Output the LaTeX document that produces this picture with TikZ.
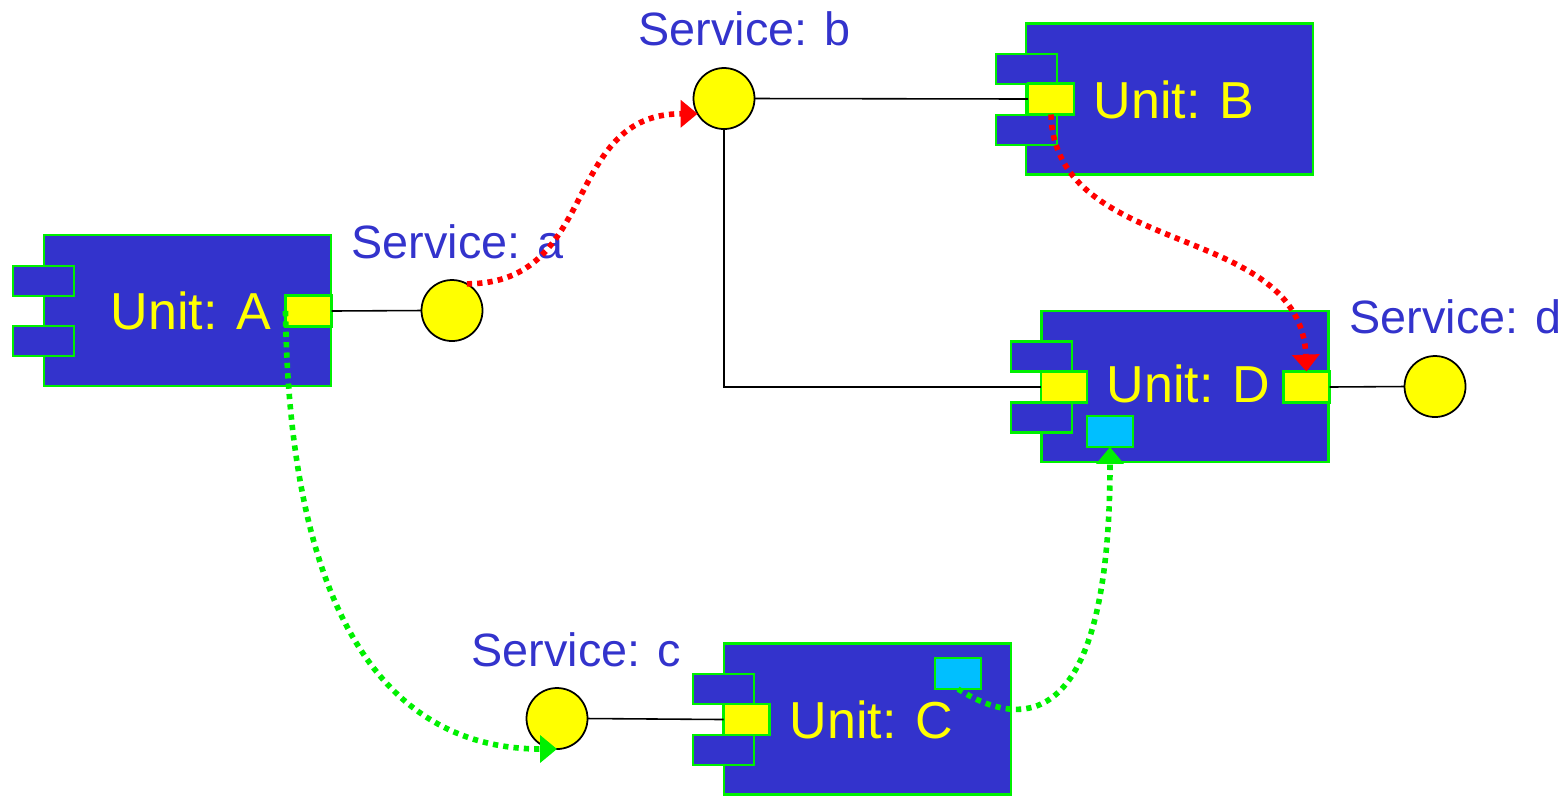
\documentclass[tikz,border=0pt]{standalone}
\usepackage{fontspec}
\setmainfont{Liberation Sans}
\usetikzlibrary{arrows.meta}
\definecolor{ublue}{HTML}{3333CC}
\definecolor{ugreen}{HTML}{00F000}
\definecolor{uyellow}{HTML}{FFFF00}
\definecolor{ucyan}{HTML}{00BFFF}
\definecolor{ured}{HTML}{FF0000}
\begin{document}
\begin{tikzpicture}[x=0.1mm,y=-0.1mm,
  unitbox/.style={draw=ugreen, fill=ublue, line width=0.6pt, minimum width=28.7mm, minimum height=15.1mm, inner sep=0pt, outer sep=0pt},
  tabbox/.style={draw=ugreen, fill=ublue, line width=0.6pt, minimum width=6.1mm, minimum height=3.0mm, inner sep=0pt, outer sep=0pt},
  portbox/.style={draw=ugreen, fill=uyellow, line width=0.6pt, minimum width=4.6mm, minimum height=3.1mm, inner sep=0pt, outer sep=0pt},
  cyanbox/.style={portbox, fill=ucyan},
  service/.style={draw=black, fill=uyellow, circle, line width=0.5pt, minimum size=6.1mm, inner sep=0pt, outer sep=0pt},
  unitlabel/.style={text=uyellow, font=\fontsize{14.8pt}{16pt}\selectfont, anchor=base west, inner sep=0pt},
  servlabel/.style={text=ublue, font=\fontsize{13.3pt}{15pt}\selectfont, anchor=base west, inner sep=0pt},
  link/.style={draw=black, line width=0.45pt},
  flow/.style={line width=1.6pt, dash pattern=on 1.5pt off 1.45pt, -{Triangle[length=4.8pt,width=7.6pt]}},
]
\useasboundingbox (0,0) rectangle (1567,795);

% Unit A
\node[unitbox] (A) at (187.5,310.5) {};
\node[tabbox] (At1) at (43.5,281) {};
\node[tabbox] (At2) at (43.5,341) {};
\node[portbox] (Ap) at (308.5,311) {};
\node[unitlabel] (Al) at (110,329) {Unit: A};

% Unit B
\node[unitbox] (B) at (1169.5,99) {};
\node[tabbox] (Bt1) at (1026.5,69) {};
\node[tabbox] (Bt2) at (1026.5,130) {};
\node[portbox] (Bp) at (1051,99) {};
\node[unitlabel] (Bl) at (1093,118) {Unit: B};

% Unit C
\node[unitbox] (C) at (867.5,719) {};
\node[tabbox] (Ct1) at (723.5,689) {};
\node[tabbox] (Ct2) at (723.5,750) {};
\node[portbox] (Cp) at (746.5,719.5) {};
\node[cyanbox] (Cc) at (958,673.5) {};
\node[unitlabel] (Cl) at (789,738) {Unit: C};

% Unit D
\node[unitbox] (D) at (1185,386.5) {};
\node[tabbox] (Dt1) at (1041.5,356.5) {};
\node[tabbox] (Dt2) at (1041.5,417.5) {};
\node[portbox] (DpL) at (1064,387) {};
\node[portbox] (DpR) at (1306.5,387) {};
\node[cyanbox] (Dc) at (1110,431.5) {};
\node[unitlabel] (Dl) at (1106,402) {Unit: D};

% Services
\node[service] (sa) at (452,310.5) {};
\node[service] (sb) at (724,98.5) {};
\node[service] (sc) at (557,718.5) {};
\node[service] (sd) at (1435,386.5) {};
\node[servlabel] (sal) at (351,258) {Service: a};
\node[servlabel] (sbl) at (638,45) {Service: b};
\node[servlabel] (scl) at (471,666) {Service: c};
\node[servlabel] (sdl) at (1349,333) {Service: d};

% Links
\draw[link] (Ap.east) -- (sa.west);
\draw[link] (sb.east) -- (Bp.west);
\draw[link] (sb.south) |- (DpL.west);
\draw[link] (sc.east) -- (Cp.west);
\draw[link] (DpR.east) -- (sd.west);

% Flows
\draw[flow, ured] (sa.61) .. controls +(133,0) and +(-136,0) .. (sb.210);
\draw[flow, ured] (Bp.south) .. controls +(4,145) and +(-6,-151) .. (DpR.north);
\draw[flow, ugreen] (Ap.west) .. controls +(4,309) and +(-167,0) .. (sc.south);
\draw[flow, ugreen] (Cc.south) .. controls +(72,46) and +(0,273) .. (Dc.south);
\end{tikzpicture}
\end{document}
